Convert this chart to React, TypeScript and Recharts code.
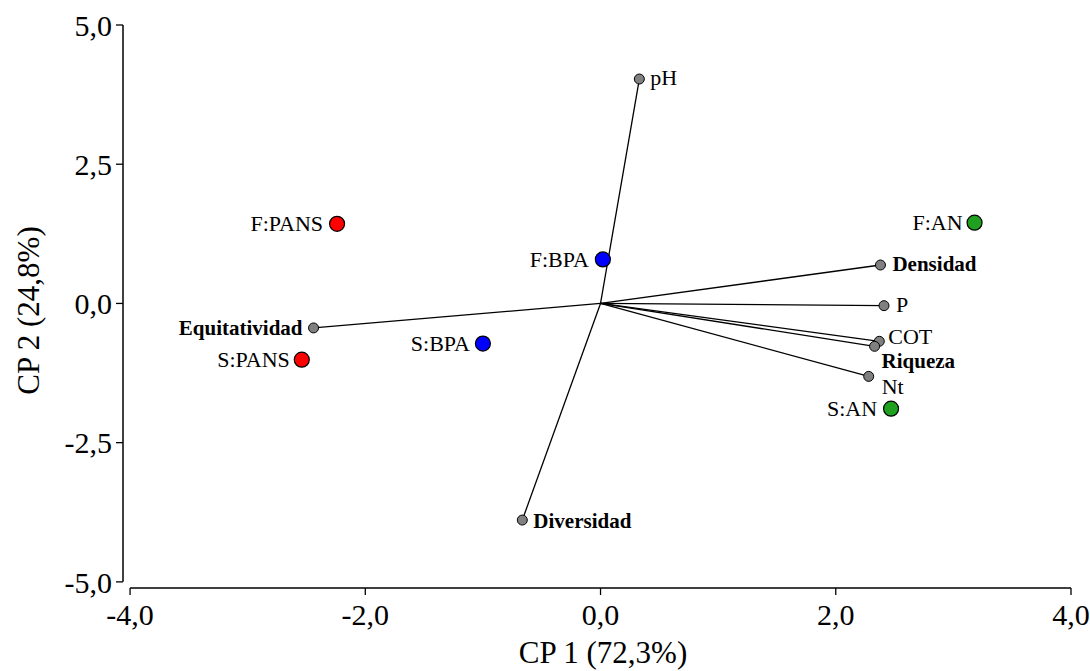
import { ScatterChart, Scatter, XAxis, YAxis, ReferenceLine, Label } from 'recharts';

if (typeof document !== 'undefined') document.body.style.margin = '0';

// sample scores (CP 1, CP 2)
const SAMPLES = ['F:PANS', 'S:PANS', 'F:BPA', 'S:BPA', 'F:AN', 'S:AN'];
const SAMPLE_CP1 = [-2.24, -2.54, 0.02, -1.0, 3.18, 2.47];
const SAMPLE_CP2 = [1.43, -1.01, 0.79, -0.72, 1.45, -1.89];
const SAMPLE_GROUP = ['PANS', 'PANS', 'BPA', 'BPA', 'AN', 'AN'];

// variable loadings (CP 1, CP 2)
const VARIABLES = ['pH', 'Densidad', 'P', 'COT', 'Riqueza', 'Nt', 'Equitatividad', 'Diversidad'];
const VAR_CP1 = [0.33, 2.38, 2.41, 2.37, 2.33, 2.28, -2.44, -0.665];
const VAR_CP2 = [4.03, 0.69, -0.04, -0.68, -0.77, -1.31, -0.44, -3.89];

const X_TICKS = [-4, -2, 0, 2, 4];
const Y_TICKS = [-5, -2.5, 0, 2.5, 5];
const X_MIN = -4.06;
const Y_MIN = -5.11;

const GROUP_COLORS: Record<string, string> = { PANS: '#ff0000', BPA: '#0000ff', AN: '#1fa01f' };
const BOLD = ['Densidad', 'Riqueza', 'Equitatividad', 'Diversidad'];

// label placement: [dx, dy, anchor]
const PLACE: Record<string, [number, number, string]> = {
  pH: [11, -2, 'start'],
  Densidad: [12, -1, 'start'],
  P: [12, -1, 'start'],
  COT: [9, -5, 'start'],
  Riqueza: [7, 15, 'start'],
  Nt: [13, 10, 'start'],
  Equitatividad: [-11, 0, 'end'],
  Diversidad: [11, 1, 'start'],
  'F:PANS': [-14, 0, 'end'],
  'S:PANS': [-12, 0, 'end'],
  'F:BPA': [-14, 0, 'end'],
  'S:BPA': [-13, 0, 'end'],
  'F:AN': [-12, 0, 'end'],
  'S:AN': [-14, 0, 'end'],
};

const FONT = '"Liberation Serif", "Times New Roman", serif';

const sampleData = SAMPLES.map((name, i) => ({ name, x: SAMPLE_CP1[i], y: SAMPLE_CP2[i], group: SAMPLE_GROUP[i] }));
const varData = VARIABLES.map((name, i) => ({ name, x: VAR_CP1[i], y: VAR_CP2[i] }));

const fmt = (v: number) => v.toFixed(1).replace('.', ',');

function PointLabel({ cx, cy, name }: { cx: number; cy: number; name: string }) {
  const [dx, dy, anchor] = PLACE[name] || [10, 0, 'start'];
  const bold = BOLD.includes(name);
  return (
    <text
      x={cx + dx}
      y={cy + dy}
      textAnchor={anchor as any}
      dominantBaseline="central"
      fontFamily={FONT}
      fontSize={bold ? 21 : 22}
      fontWeight={bold ? 'bold' : 'normal'}
      fill="#000"
    >
      {name}
    </text>
  );
}

const sampleShape = (props: any) => {
  const { cx, cy, payload } = props;
  return (
    <g>
      <circle cx={cx} cy={cy} r={7.5} fill={GROUP_COLORS[payload.group]} stroke="#000" strokeWidth={1.2} />
      <PointLabel cx={cx} cy={cy} name={payload.name} />
    </g>
  );
};

const varShape = (props: any) => {
  const { cx, cy, payload } = props;
  return (
    <g>
      <circle cx={cx} cy={cy} r={5} fill="#808080" stroke="#000" strokeWidth={1} />
      <PointLabel cx={cx} cy={cy} name={payload.name} />
    </g>
  );
};

const tickStyle = { fill: '#000', fontSize: 30, fontFamily: FONT };

export default function App() {
  return (
    <ScatterChart width={1090} height={671} margin={{ top: 25, right: 19, bottom: 0, left: 0 }}>
      <XAxis
        type="number"
        dataKey="x"
        domain={[X_MIN, 4]}
        ticks={X_TICKS}
        allowDataOverflow
        axisLine={false}
        tickLine={{ stroke: '#000', strokeWidth: 1.3 }}
        tickSize={7}
        tickMargin={9}
        tick={tickStyle}
        tickFormatter={fmt}
        height={83}
      >
        <Label
          content={({ viewBox }: any) => (
            <text
              x={viewBox.x + viewBox.width / 2 + 6}
              y={viewBox.y + 75}
              textAnchor="middle"
              fontFamily={FONT}
              fontSize={31}
              fill="#000"
            >
              CP 1 (72,3%)
            </text>
          )}
        />
      </XAxis>
      <YAxis
        type="number"
        dataKey="y"
        domain={[Y_MIN, 5]}
        ticks={Y_TICKS}
        allowDataOverflow
        axisLine={false}
        tickLine={{ stroke: '#000', strokeWidth: 1.3 }}
        tickSize={7}
        tickMargin={4}
        tick={tickStyle}
        tickFormatter={fmt}
        width={123}
      >
        <Label
          content={({ viewBox }: any) => {
            const x = viewBox.x + 28;
            const y = viewBox.y + viewBox.height / 2 + 4;
            return (
              <text
                x={x}
                y={y}
                transform={`rotate(-90, ${x}, ${y})`}
                textAnchor="middle"
                dominantBaseline="central"
                fontFamily={FONT}
                fontSize={31}
                fill="#000"
              >
                CP 2 (24,8%)
              </text>
            );
          }}
        />
      </YAxis>
      <ReferenceLine
        segment={[{ x: -4, y: Y_MIN }, { x: 4, y: Y_MIN }]}
        stroke="#000"
        strokeWidth={1.5}
        ifOverflow="visible"
      />
      <ReferenceLine
        segment={[{ x: X_MIN, y: -5 }, { x: X_MIN, y: 5 }]}
        stroke="#000"
        strokeWidth={1.5}
        ifOverflow="visible"
      />
      {varData.map(v => (
        <ReferenceLine
          key={v.name}
          segment={[{ x: 0, y: 0 }, { x: v.x, y: v.y }]}
          stroke="#000"
          strokeWidth={1.3}
          ifOverflow="visible"
        />
      ))}
      <Scatter data={varData} shape={varShape} isAnimationActive={false} />
      <Scatter data={sampleData} shape={sampleShape} isAnimationActive={false} />
    </ScatterChart>
  );
}
